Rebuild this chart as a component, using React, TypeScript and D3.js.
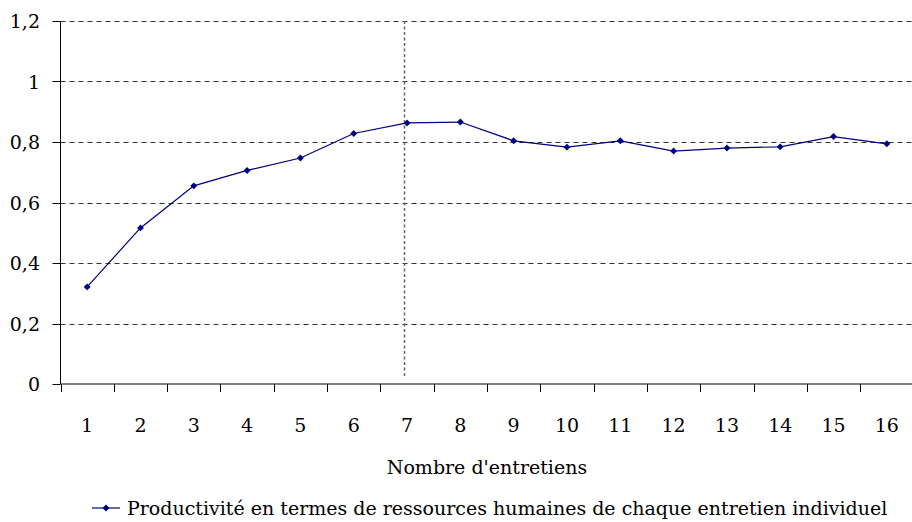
import React from "react";
import * as d3 from "d3";

const categories = ["1", "2", "3", "4", "5", "6", "7", "8", "9", "10", "11", "12", "13", "14", "15", "16"];
const productivite = [0.321, 0.516, 0.655, 0.706, 0.747, 0.828, 0.863, 0.866, 0.804, 0.783, 0.804, 0.77, 0.78, 0.784, 0.818, 0.794];
const yTicks = [0, 0.2, 0.4, 0.6, 0.8, 1, 1.2];
const markerCategory = "7";
const seriesName = "Productivité en termes de ressources humaines de chaque entretien individuel";
const xTitle = "Nombre d'entretiens";

const W = 912;
const H = 522;
const left = 60.5;
const right = 913.5;
const top = 21;
const bottom = 384;
const font = "DejaVu Serif, serif";
const fs = 19;
const navy = "#000080";

const fmt = (v: number) => String(v).replace(".", ",");

export default function App() {
  const x = d3.scaleBand().domain(categories).range([left, right]);
  const y = d3.scaleLinear().domain([0, 1.2]).range([bottom, top]);
  const cx = (c: string) => (x(c) ?? 0) + x.bandwidth() / 2;

  const path = d3
    .line<number>()
    .x((_, i) => cx(categories[i]))
    .y((v) => y(v))(productivite);

  // square turned 45 degrees, like the spreadsheet diamond marker
  const diamond = d3.symbol().type(d3.symbolSquare).size(24)();
  const bounds = categories.map((c) => x(c) ?? 0).concat([right]);

  return (
    <svg
      width={W}
      height={H}
      style={{ position: "absolute", left: 0, top: 0, background: "#fff", fontFamily: font }}
    >
      {/* grid */}
      {yTicks.filter((t) => t > 0).map((t) => (
        <line
          key={t}
          x1={left}
          x2={right}
          y1={Math.round(y(t)) + 0.5}
          y2={Math.round(y(t)) + 0.5}
          stroke="#333"
          strokeDasharray="5,4"
        />
      ))}
      {/* vertical dotted line */}
      <line
        x1={Math.round(cx(markerCategory)) - 2.5}
        x2={Math.round(cx(markerCategory)) - 2.5}
        y1={top}
        y2={bottom - 7}
        stroke="#666"
        strokeWidth={1.5}
        strokeDasharray="3,2.5"
      />
      {/* axes */}
      <line x1={left} x2={left} y1={top} y2={bottom} stroke="#000" />
      <line x1={left} x2={right} y1={bottom} y2={bottom} stroke="#000" />
      {yTicks.map((t) => (
        <g key={t}>
          <line x1={left - 8} x2={left} y1={Math.round(y(t)) + 0.5} y2={Math.round(y(t)) + 0.5} stroke="#000" />
          <text x={40} y={y(t) + 7} textAnchor="end" fontSize={fs}>
            {fmt(t)}
          </text>
        </g>
      ))}
      {bounds.map((b, i) => (
        <line key={i} x1={Math.round(b) + 0.5} x2={Math.round(b) + 0.5} y1={bottom} y2={bottom + 8} stroke="#000" />
      ))}
      {categories.map((c) => (
        <text key={c} x={cx(c)} y={432} textAnchor="middle" fontSize={fs}>
          {c}
        </text>
      ))}
      <text x={(left + right) / 2} y={474} textAnchor="middle" fontSize={fs}>
        {xTitle}
      </text>
      {/* series */}
      <path d={path ?? ""} fill="none" stroke={navy} strokeWidth={1.2} />
      {productivite.map((v, i) => (
        <path key={i} d={diamond ?? ""} transform={`translate(${cx(categories[i])},${y(v)}) rotate(45)`} fill={navy} />
      ))}
      {/* legend */}
      <line x1={92} x2={120} y1={508} y2={508} stroke={navy} strokeWidth={1.2} />
      <path d={diamond ?? ""} transform="translate(106,508) rotate(45)" fill={navy} />
      <text x={127} y={515} fontSize={fs}>
        {seriesName}
      </text>
    </svg>
  );
}
